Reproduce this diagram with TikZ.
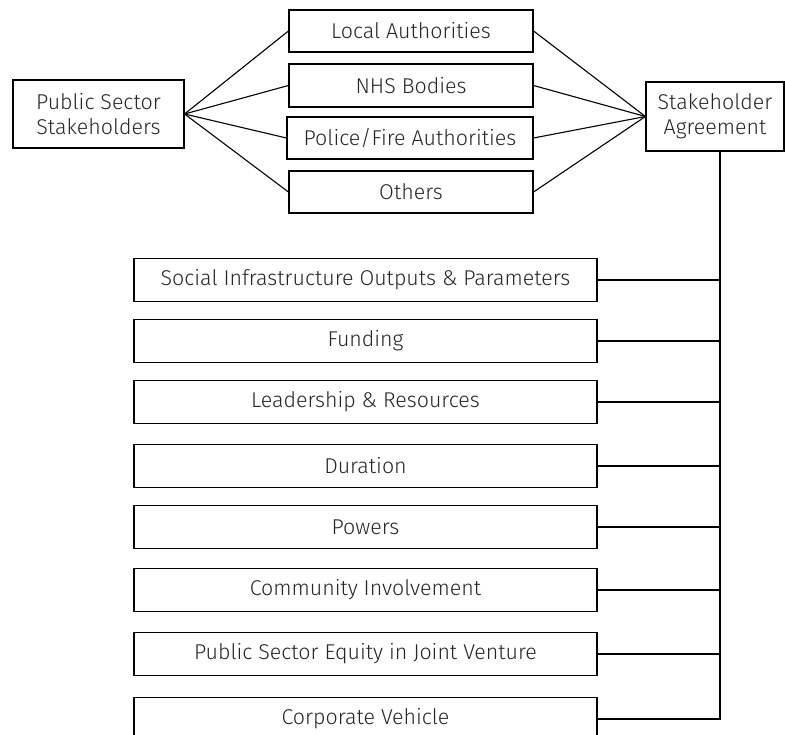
\documentclass[tikz,border=0pt]{standalone}
\usepackage{fontspec}
\setmainfont{Fira Sans}[UprightFont=* Light]
\begin{document}
\begin{tikzpicture}[x=1pt,y=-1pt,
  box/.style={draw=black, line width=1.1pt, fill=white, inner sep=0pt, align=center,
    font=\fontsize{21.4}{25}\selectfont, text=black!85},
  conn/.style={draw=black, line width=1.1pt}]
\useasboundingbox (0,0) rectangle (785,735);
\clip (0,0) rectangle (785,735);
% top section
\node[box, minimum width=171pt, minimum height=68pt] (pss) at (98.5,114) {Public Sector\\Stakeholders};
\node[box, minimum width=244pt, minimum height=42pt] (la)  at (411,31)   {Local Authorities};
\node[box, minimum width=244pt, minimum height=43pt] (nhs) at (411,85.5) {NHS Bodies};
\node[box, minimum width=246pt, minimum height=42pt] (pfa) at (410,138)  {Police/Fire Authorities};
\node[box, minimum width=244pt, minimum height=42pt] (oth) at (411,192)  {Others};
\node[box, minimum width=138pt, minimum height=69pt] (sa)  at (715,116.5) {Stakeholder\\Agreement};
\foreach \n in {la,nhs,pfa,oth}{
  \draw[conn] (pss.east) -- (\n.west);
  \draw[conn] (\n.east) -- (sa.west);
}
% bottom section
\tikzset{item/.style={box, minimum width=463pt, minimum height=43pt}}
\node[item] (s1) at (365.5,280) {Social Infrastructure Outputs \& Parameters};
\node[item] (s2) at (365.5,341) {Funding};
\node[item] (s3) at (365.5,402) {Leadership \& Resources};
\node[item] (s4) at (365.5,466) {Duration};
\node[item] (s5) at (365.5,527) {Powers};
\node[item] (s6) at (365.5,590) {Community Involvement};
\node[item] (s7) at (365.5,654) {Public Sector Equity in Joint Venture};
\node[item] (s8) at (365.5,719) {Corporate Vehicle};
\coordinate (busx) at (720,719);
\draw[conn] (sa.south -| busx) -- (busx) -- (s8.east);
\foreach \n in {s1,s2,s3,s4,s5,s6,s7}{
  \draw[conn] (\n.east) -- (\n.east -| busx);
}
\end{tikzpicture}
\end{document}
